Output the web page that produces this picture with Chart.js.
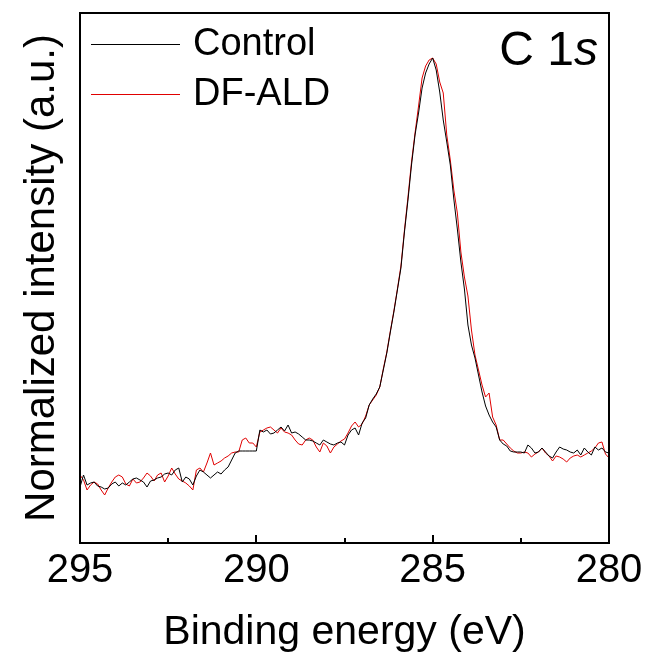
<!DOCTYPE html>
<html>
<head>
<meta charset="utf-8">
<script src="https://cdn.jsdelivr.net/npm/chart.js@4.4.1/dist/chart.umd.min.js"></script>
<style>
  html, body { margin: 0; padding: 0; background: #fff; }
  #wrap { width: 647px; height: 659px; position: relative; }
</style>
</head>
<body>
<div id="wrap"><canvas id="c"></canvas></div>
<script>
  // Binding energy grid (eV), 0.1 eV steps
  const energy = [
    295.0, 294.9, 294.8, 294.7, 294.6, 294.5, 294.4, 294.3, 294.2, 294.1,
    294.0, 293.9, 293.8, 293.7, 293.6, 293.5, 293.4, 293.3, 293.2, 293.1,
    293.0, 292.9, 292.8, 292.7, 292.6, 292.5, 292.4, 292.3, 292.2, 292.1,
    292.0, 291.9, 291.8, 291.7, 291.6, 291.5, 291.4, 291.3, 291.2, 291.1,
    291.0, 290.9, 290.8, 290.7, 290.6, 290.5, 290.4, 290.3, 290.2, 290.1,
    290.0, 289.9, 289.8, 289.7, 289.6, 289.5, 289.4, 289.3, 289.2, 289.1,
    289.0, 288.9, 288.8, 288.7, 288.6, 288.5, 288.4, 288.3, 288.2, 288.1,
    288.0, 287.9, 287.8, 287.7, 287.6, 287.5, 287.4, 287.3, 287.2, 287.1,
    287.0, 286.9, 286.8, 286.7, 286.6, 286.5, 286.4, 286.3, 286.2, 286.1,
    286.0, 285.9, 285.8, 285.7, 285.6, 285.5, 285.4, 285.3, 285.2, 285.1,
    285.0, 284.9, 284.8, 284.7, 284.6, 284.5, 284.4, 284.3, 284.2, 284.1,
    284.0, 283.9, 283.8, 283.7, 283.6, 283.5, 283.4, 283.3, 283.2, 283.1,
    283.0, 282.9, 282.8, 282.7, 282.6, 282.5, 282.4, 282.3, 282.2, 282.1,
    282.0, 281.9, 281.8, 281.7, 281.6, 281.5, 281.4, 281.3, 281.2, 281.1,
    281.0, 280.9, 280.8, 280.7, 280.6, 280.5, 280.4, 280.3, 280.2, 280.1,
    280.0
  ];

  // Normalized intensity (a.u.)
  const control = [
    56, 68, 58, 60, 61, 57, 56, 54, 55, 59,
    61, 57, 60, 58, 61, 64, 65, 63, 61, 56,
    62, 63, 65, 66, 69, 70, 68, 73, 75, 61,
    66, 64, 58, 67, 73, 71, 68, 65, 68, 71,
    69, 73, 76, 83, 90, 92, 92, 92, 92, 92,
    92, 113, 111, 113, 109, 110, 113, 116, 112, 118,
    110, 111, 109, 106, 103, 103, 102, 100, 98, 103,
    101, 99, 98, 100, 101, 98, 108, 113, 115, 108,
    120, 125, 138, 144, 149, 156, 173, 190, 211, 231,
    253, 275, 311, 343, 378, 408, 430, 455, 470, 479,
    485, 473, 451, 423, 401, 378, 344, 314, 281, 254,
    218, 198, 185, 168, 151, 137, 128, 121, 116, 103,
    99, 97, 92, 91, 91, 91, 90, 98, 95, 90,
    91, 95, 91, 87, 85, 91, 96, 94, 93, 91,
    90, 93, 88, 95, 91, 88, 96, 93, 95, 91,
    90
  ];

  const dfAld = [
    68, 63, 53, 58, 61, 59, 53, 48, 55, 61,
    66, 68, 66, 59, 57, 64, 60, 61, 65, 70,
    67, 62, 68, 70, 61, 67, 75, 69, 64, 62,
    60, 57, 53, 73, 75, 71, 80, 90, 78, 80,
    82, 85, 87, 90, 91, 91, 103, 105, 100, 100,
    96, 111, 113, 115, 116, 113, 110, 115, 111, 110,
    108, 103, 99, 98, 103, 105, 103, 96, 91, 100,
    97, 90, 96, 99, 102, 104, 110, 117, 121, 116,
    119, 127, 138, 143, 148, 156, 174, 191, 212, 232,
    254, 277, 313, 346, 381, 410, 437, 465, 477, 483,
    485, 479, 461, 450, 408, 383, 353, 330, 291, 266,
    247, 213, 188, 173, 158, 146, 150, 126, 118, 103,
    103, 99, 95, 92, 90, 90, 91, 90, 86, 89,
    91, 95, 90, 87, 82, 87, 86, 84, 81, 85,
    87, 88, 86, 88, 90, 92, 95, 100, 101, 89,
    85
  ];

  const seriesLabels = ['Control', 'DF-ALD'];
  const majorTicks = [295, 290, 285, 280];
  const minorTicks = [292.5, 287.5, 282.5];
  const panelMain = 'C 1';
  const panelItalic = 's';

  const FONT = "'Liberation Sans', Arial, sans-serif";

  function toPoints(values) {
    return values.map(function (v, i) { return { x: energy[i], y: v }; });
  }

  // Frame, inward ticks, legend and panel label.
  const decorPlugin = {
    id: 'decor',
    afterDatasetsDraw: function (chart) {
      const ctx = chart.ctx;
      const a = chart.chartArea;
      const xs = chart.scales.x;
      ctx.save();
      ctx.strokeStyle = '#000';
      ctx.lineWidth = 2;
      ctx.strokeRect(a.left, a.top, a.right - a.left, a.bottom - a.top);

      ctx.beginPath();
      majorTicks.forEach(function (v) {
        const x = Math.round(xs.getPixelForValue(v));
        ctx.moveTo(x, a.bottom);
        ctx.lineTo(x, a.bottom - 8);
      });
      minorTicks.forEach(function (v) {
        const x = Math.round(xs.getPixelForValue(v));
        ctx.moveTo(x, a.bottom);
        ctx.lineTo(x, a.bottom - 5);
      });
      ctx.stroke();

      // Legend in the upper left corner.
      ctx.font = '38px ' + FONT;
      ctx.textBaseline = 'middle';
      ctx.textAlign = 'left';
      chart.data.datasets.forEach(function (ds, i) {
        const y = a.top + 31 + i * 50;
        ctx.strokeStyle = ds.borderColor;
        ctx.lineWidth = 1;
        ctx.beginPath();
        ctx.moveTo(a.left + 11, y + 0.5);
        ctx.lineTo(a.left + 100, y + 0.5);
        ctx.stroke();
        ctx.fillStyle = '#000';
        ctx.fillText(ds.label, a.left + 113, y + 1);
      });

      // Panel label "C 1s" with italic s.
      ctx.textBaseline = 'alphabetic';
      ctx.fillStyle = '#000';
      ctx.font = '48px ' + FONT;
      const w1 = ctx.measureText(panelMain).width;
      ctx.font = 'italic 48px ' + FONT;
      const w2 = ctx.measureText(panelItalic).width;
      const x0 = a.right - 11 - w1 - w2;
      ctx.font = '48px ' + FONT;
      ctx.fillText(panelMain, x0, a.top + 52);
      ctx.font = 'italic 48px ' + FONT;
      ctx.fillText(panelItalic, x0 + w1, a.top + 52);
      ctx.restore();
    }
  };

  new Chart(document.getElementById('c'), {
    type: 'line',
    data: {
      datasets: [
        {
          label: seriesLabels[0],
          data: toPoints(control),
          borderColor: '#000000',
          borderWidth: 1,
          pointRadius: 0,
          tension: 0,
          fill: false
        },
        {
          label: seriesLabels[1],
          data: toPoints(dfAld),
          borderColor: '#e00000',
          borderWidth: 1,
          pointRadius: 0,
          tension: 0,
          fill: false
        }
      ]
    },
    options: {
      responsive: true,
      maintainAspectRatio: false,
      animation: false,
      devicePixelRatio: 1,
      layout: { padding: { top: 13, right: 38, bottom: 0, left: 0 } },
      plugins: {
        legend: { display: false },
        tooltip: { enabled: false }
      },
      scales: {
        x: {
          type: 'linear',
          reverse: true,
          min: 280,
          max: 295,
          afterBuildTicks: function (scale) {
            scale.ticks = majorTicks.map(function (v) { return { value: v }; });
          },
          afterFit: function (scale) { scale.height = 116; },
          grid: { display: false, drawTicks: false },
          border: { display: true, color: '#000', width: 2 },
          ticks: {
            autoSkip: false,
            maxRotation: 0,
            padding: 4,
            color: '#000',
            font: { family: FONT, size: 40 }
          },
          title: {
            display: true,
            text: 'Binding energy (eV)',
            color: '#000',
            font: { family: FONT, size: 41 },
            padding: { top: 0, bottom: 2 }
          }
        },
        y: {
          min: 0,
          max: 530,
          afterFit: function (scale) { scale.width = 80; },
          grid: { display: false, drawTicks: false },
          border: { display: true, color: '#000', width: 2 },
          ticks: { display: false },
          title: {
            display: true,
            text: 'Normalized intensity (a.u.)',
            color: '#000',
            font: { family: FONT, size: 42 },
            padding: { top: 17, bottom: 0 }
          }
        }
      }
    },
    plugins: [decorPlugin]
  });
</script>
</body>
</html>
